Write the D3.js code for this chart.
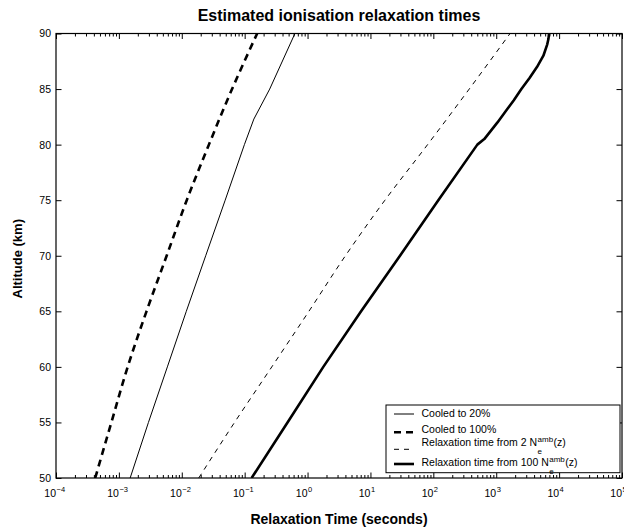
<!DOCTYPE html>
<html>
<head>
<meta charset="utf-8">
<script src="https://cdn.jsdelivr.net/npm/d3@7"></script>
<style>
  body { margin: 0; background: #fff; }
  text { font-family: "Liberation Sans", Arial, Helvetica, sans-serif; fill: #000; }
</style>
</head>
<body>
<script>
var w = 624;
var h = 528;

// altitude grid (km)
var altitudes = [50, 55, 60, 65, 70, 75, 80, 85, 90];
var altitudesThin = [50, 55, 60, 65, 70, 75, 80, 82.3, 85, 90];
var altitudesThick = [50, 55, 60, 65, 70, 75, 80, 80.5, 82, 83, 84, 85, 86, 87, 88, 89, 89.5, 90];

// relaxation times (seconds)
var cooled20 = [0.00151, 0.00295, 0.0059, 0.0118, 0.024, 0.049, 0.099, 0.14, 0.25, 0.63];
var cooled100 = [0.00042, 0.00076, 0.00138, 0.00275, 0.00575, 0.012, 0.027, 0.063, 0.158];
var relax2 = [0.0186, 0.069, 0.27, 1.05, 4.0, 17, 81, 372, 1660];
var relax100 = [0.129, 0.48, 1.78, 7.1, 29.5, 120, 501, 646, 1047, 1413, 1905, 2512, 3388, 4467, 5623, 6457, 6761, 6918];

var xExponents = [-4, -3, -2, -1, 0, 1, 2, 3, 4, 5];
var yTicks = [50, 55, 60, 65, 70, 75, 80, 85, 90];

var pLeft = 56, pRight = 622, pTop = 33.5, pBottom = 478;

var svg = d3.select("body")
            .append("svg")
              .attr("width", w)
              .attr("height", h);

var x = d3.scaleLog().domain([1e-4, 1e5]).range([pLeft, pRight]);
var y = d3.scaleLinear().domain([50, 90]).range([pBottom, pTop]);

var majors = xExponents.map(function(e) { return Math.pow(10, e); });
var minors = [];
xExponents.slice(0, -1).forEach(function(e) {
  for (var k = 2; k <= 9; k++) minors.push(k * Math.pow(10, e));
});

// clip
svg.append("clipPath").attr("id", "plot")
  .append("rect")
    .attr("x", pLeft).attr("y", pTop)
    .attr("width", pRight - pLeft).attr("height", pBottom - pTop);

function drawAxis(axis, tx, ty) {
  var g = svg.append("g")
    .attr("transform", "translate(" + tx + "," + ty + ")")
    .call(axis);
  g.select(".domain").remove();
  g.selectAll("line").attr("stroke", "#000").attr("stroke-width", 1);
  return g;
}

// x axes, bottom + top, major + minor (inward)
drawAxis(d3.axisBottom(x).tickValues(majors).tickSize(-5.5).tickFormat(""), 0, pBottom);
drawAxis(d3.axisBottom(x).tickValues(minors).tickSize(-3).tickFormat(""), 0, pBottom);
drawAxis(d3.axisTop(x).tickValues(majors).tickSize(-5.5).tickFormat(""), 0, pTop);
drawAxis(d3.axisTop(x).tickValues(minors).tickSize(-3).tickFormat(""), 0, pTop);

// y axes
var yl = drawAxis(d3.axisLeft(y).tickValues(yTicks).tickSize(-5.5).tickPadding(5), pLeft, 0);
yl.selectAll("text")
  .style("font-family", "'Liberation Sans', Arial, sans-serif")
  .style("font-size", "10.5px")
  .attr("fill", "#000");
drawAxis(d3.axisRight(y).tickValues(yTicks).tickSize(-5.5).tickFormat(""), pRight, 0);

// x tick labels 10^n
var xl = svg.append("g");
xl.selectAll("text.base")
  .data(xExponents)
  .enter()
  .append("text")
    .attr("class", "base")
    .attr("x", function(d) { return x(Math.pow(10, d)); })
    .attr("y", 497)
    .attr("text-anchor", "end")
    .style("font-size", "10.5px")
    .text("10");
xl.selectAll("text.exp")
  .data(xExponents)
  .enter()
  .append("text")
    .attr("class", "exp")
    .attr("x", function(d) { return x(Math.pow(10, d)) + 0.5; })
    .attr("y", 491.5)
    .style("font-size", "7.5px")
    .text(function(d) { return d < 0 ? "\u2212" + (-d) : "" + d; });

// frame
svg.append("rect")
  .attr("x", pLeft).attr("y", pTop)
  .attr("width", pRight - pLeft).attr("height", pBottom - pTop)
  .attr("fill", "none")
  .attr("stroke", "#000")
  .attr("stroke-width", 1.2);

// curves
var series = [
  { t: cooled20, z: altitudesThin, width: 1, dash: null, curve: d3.curveLinear },
  { t: cooled100, z: altitudes, width: 2.6, dash: "7,5", curve: d3.curveMonotoneY },
  { t: relax2, z: altitudes, width: 1, dash: "5,5", curve: d3.curveMonotoneY },
  { t: relax100, z: altitudesThick, width: 2.6, dash: null, curve: d3.curveLinear }
];

var plot = svg.append("g").attr("clip-path", "url(#plot)");
series.forEach(function(s) {
  var line = d3.line()
    .x(function(d) { return x(d[0]); })
    .y(function(d) { return y(d[1]); })
    .curve(s.curve);
  plot.append("path")
    .datum(s.t.map(function(v, i) { return [v, s.z[i]]; }))
    .attr("d", line)
    .attr("fill", "none")
    .attr("stroke", "#000")
    .attr("stroke-width", s.width)
    .attr("stroke-linejoin", "round")
    .attr("stroke-dasharray", s.dash);
});

// legend
var lg = svg.append("g");
lg.append("rect")
  .attr("x", 386).attr("y", 405)
  .attr("width", 234).attr("height", 67.7)
  .attr("fill", "#fff")
  .attr("stroke", "#000")
  .attr("stroke-width", 1);

var legendItems = [
  { label: "Cooled to 20%", amb: false, ly: 414, ty: 416.7, width: 1, dash: null },
  { label: "Cooled to 100%", amb: false, ly: 432.3, ty: 432.7, width: 2.6, dash: "7,5" },
  { label: "Relaxation time from 2 N", amb: true, ly: 449.3, ty: 446, width: 1, dash: "5,5" },
  { label: "Relaxation time from 100 N", amb: true, ly: 464, ty: 466, width: 2.6, dash: null }
];

legendItems.forEach(function(d) {
  lg.append("line")
    .attr("x1", 394).attr("x2", 414)
    .attr("y1", d.ly).attr("y2", d.ly)
    .attr("stroke", "#000")
    .attr("stroke-width", d.width)
    .attr("stroke-dasharray", d.dash);
  var t = lg.append("text")
    .attr("x", 421.5).attr("y", d.ty)
    .style("font-size", "10.5px")
    .text(d.label);
  if (d.amb) {
    var x0 = 421.5 + t.node().getComputedTextLength();
    var sup = lg.append("text")
      .attr("x", x0 + 0.5).attr("y", d.ty - 4.5)
      .style("font-size", "8px")
      .text("amb");
    lg.append("text")
      .attr("x", x0 + 0.5).attr("y", d.ty + 8)
      .style("font-size", "8px")
      .text("e");
    lg.append("text")
      .attr("x", x0 + 1 + sup.node().getComputedTextLength())
      .attr("y", d.ty)
      .style("font-size", "10.5px")
      .text("(z)");
  }
});

// titles
svg.append("text")
  .attr("x", (pLeft + pRight) / 2).attr("y", 21)
  .attr("text-anchor", "middle")
  .style("font-size", "16px")
  .style("font-weight", "bold")
  .text("Estimated ionisation relaxation times");

svg.append("text")
  .attr("x", (pLeft + pRight) / 2).attr("y", 524)
  .attr("text-anchor", "middle")
  .style("font-size", "14px")
  .style("font-weight", "bold")
  .text("Relaxation Time (seconds)");

svg.append("text")
  .attr("transform", "translate(22," + ((pTop + pBottom) / 2 + 3) + ") rotate(-90)")
  .attr("text-anchor", "middle")
  .style("font-size", "13px")
  .style("font-weight", "bold")
  .text("Altitude (km)");
</script>
</body>
</html>
